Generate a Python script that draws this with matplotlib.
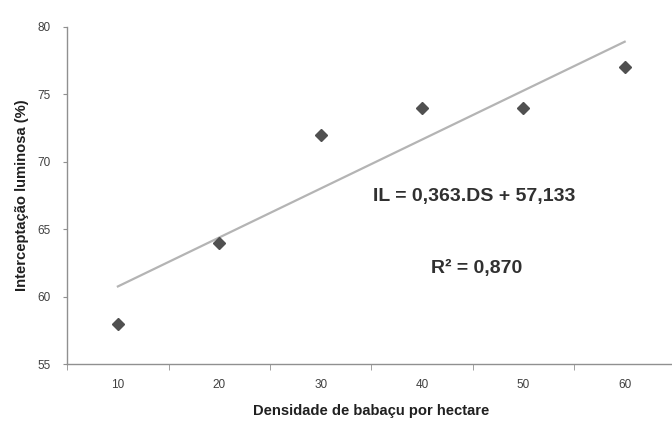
import numpy as np
import matplotlib
matplotlib.use('Agg')
import matplotlib.pyplot as plt

plt.rcParams['font.family'] = ['Liberation Sans', 'DejaVu Sans']

# densidade de babacu (DS) e interceptacao luminosa (IL)
densidade = [10, 20, 30, 40, 50, 60]
intercep = [58, 64, 72, 74, 74, 77]
eq_txt = 'IL = 0,363.DS + 57,133'
r2_txt = 'R² = 0,870'

fig = plt.figure(figsize=(6.72, 4.21), dpi=100)
ax = fig.add_axes([0.1, 0.135, 0.905, 0.801])

# linha de tendencia
a, b = np.polyfit(densidade, intercep, 1)
xl = np.array([densidade[0], densidade[-1]])
ax.plot(xl, a * xl + b, '-', color='#b4b4b4', lw=1.6, zorder=1)

ax.plot(densidade, intercep, 'D', ms=6.5, color='#505050', mec='#505050', zorder=2)

ax.set_xlim(5, 65)
ax.set_ylim(55, 80)
ax.set_xticks(densidade)
ax.set_xticks(np.arange(5, 66, 10), minor=True)
ax.set_yticks(np.arange(55, 81, 5))
ax.tick_params(axis='x', which='major', length=0, pad=11, labelsize=8.5, labelcolor='#404040')
ax.tick_params(axis='x', which='minor', length=4, color='#909090', direction='out')
ax.tick_params(axis='y', length=3, color='#909090', labelsize=8.5, labelcolor='#404040', pad=9)

for s in ['top', 'right']:
    ax.spines[s].set_visible(False)
for s in ['left', 'bottom']:
    ax.spines[s].set_color('#909090')
    ax.spines[s].set_linewidth(1.0)

ax.set_xlabel('Densidade de babaçu por hectare', fontsize=10.6, fontweight='bold',
              color='#202020', labelpad=9)
ax.set_ylabel('Interceptação luminosa (%)', fontsize=10.6, fontweight='bold',
              color='#202020', labelpad=6)

ax.text(45.2, 67.4, eq_txt, fontsize=14, fontweight='bold', color='#303030',
        ha='center', va='center')
ax.text(45.4, 62.1, r2_txt, fontsize=14, fontweight='bold', color='#303030',
        ha='center', va='center')

fig.savefig('out.png', dpi=100)
